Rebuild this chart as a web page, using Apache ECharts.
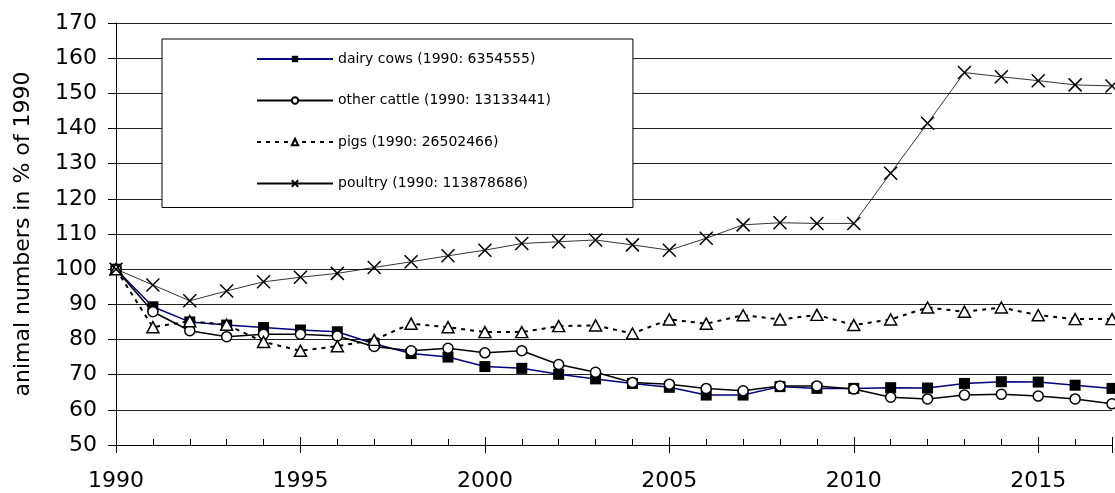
<!DOCTYPE html>
<html>
<head>
<meta charset="utf-8">
<script src="https://cdn.jsdelivr.net/npm/echarts@6/dist/echarts.min.js"></script>
<style>
html,body{margin:0;padding:0;background:#fff;}
#chart{width:1115px;height:493px;}
</style>
</head>
<body>
<div id="chart"></div>
<script>
const years = [1990,1991,1992,1993,1994,1995,1996,1997,1998,1999,2000,2001,2002,2003,2004,2005,2006,2007,2008,2009,2010,2011,2012,2013,2014,2015,2016,2017];
const dairyCows   = [100,89.3,85.0,84.1,83.4,82.7,82.2,78.8,76.0,75.0,72.3,71.8,70.1,68.8,67.5,66.4,64.2,64.2,66.6,66.1,66.1,66.3,66.2,67.5,68.0,67.9,67.0,66.1];
const otherCattle = [100,87.9,82.5,80.8,81.5,81.5,81.0,78.0,76.8,77.5,76.2,76.8,72.9,70.7,67.8,67.3,66.1,65.4,66.8,66.8,65.9,63.6,63.1,64.2,64.4,63.9,63.1,61.7];
const pigs        = [100,83.5,85.2,84.2,79.3,76.8,78.1,79.9,84.5,83.5,82.1,82.1,83.8,84.0,81.7,85.7,84.5,86.9,85.7,87.0,84.1,85.7,89.1,87.9,89.1,86.9,85.8,85.8];
const poultry     = [100,95.5,91.0,93.8,96.4,97.7,98.8,100.5,102.1,103.8,105.4,107.3,107.8,108.3,106.9,105.4,108.8,112.6,113.2,113.0,113.0,127.3,141.5,155.9,154.7,153.6,152.4,152.1];
const seriesNames = ['dairy cows (1990: 6354555)','other cattle (1990: 13133441)','pigs (1990: 26502466)','poultry (1990: 113878686)'];
const yAxisName = 'animal numbers in % of 1990';

const pairs = arr => years.map((y,i)=>[y,arr[i]]);
const FONT = 'DejaVu Sans';

const chart = echarts.init(document.getElementById('chart'), null, {renderer:'canvas'});
const baseX = {type:'value', min:1990, max:2017, gridIndex:0, splitLine:{show:false}};
chart.setOption({
  backgroundColor:'#fff',
  animation:false,
  textStyle:{fontFamily:FONT},
  grid:{left:116, top:23, width:1002, height:422},
  legend:{
    orient:'vertical', left:162, top:39,
    backgroundColor:'#fff', borderColor:'#000', borderWidth:1,
    padding:[12,82,16,94],
    itemWidth:76, itemHeight:8, itemGap:25.5,
    textStyle:{fontFamily:FONT, fontSize:14, color:'#000', lineHeight:16},
    data:seriesNames
  },
  xAxis:[
    Object.assign({}, baseX, {
      interval:5, position:'bottom',
      axisLine:{show:true, lineStyle:{color:'#000', width:1}},
      axisTick:{show:true, inside:false, length:8, lineStyle:{color:'#000'}},
      axisLabel:{fontFamily:FONT, fontSize:22, color:'#000', margin:25,
        formatter:v => (v % 5 === 0 ? String(v) : '')}
    }),
    Object.assign({}, baseX, {
      interval:1, position:'bottom',
      axisLine:{show:false},
      axisTick:{show:true, inside:true, length:6, lineStyle:{color:'#000'}},
      axisLabel:{show:false}
    }),
    Object.assign({}, baseX, {
      interval:5, position:'bottom',
      axisLine:{show:false},
      axisTick:{show:true, inside:true, length:8, lineStyle:{color:'#000'}},
      axisLabel:{show:false}
    })
  ],
  yAxis:{
    type:'value', min:50, max:170, interval:10,
    name:yAxisName, nameLocation:'middle', nameGap:82, nameRotate:90,
    nameTextStyle:{fontFamily:FONT, fontSize:22, color:'#000'},
    axisLine:{show:true, lineStyle:{color:'#000', width:1}},
    axisTick:{show:true, inside:false, length:8, lineStyle:{color:'#000'}},
    axisLabel:{fontFamily:FONT, fontSize:22, color:'#000', margin:19},
    splitLine:{show:true, lineStyle:{color:'#222', width:1}}
  },
  series:[
    {
      name:seriesNames[0], type:'line', data:pairs(dairyCows), showAllSymbol:true,
      symbol:'rect', symbolSize:11,
      lineStyle:{color:'#000080', width:1.5},
      itemStyle:{color:'#000', borderColor:'#000', borderWidth:0},
      z:3
    },
    {
      name:seriesNames[1], type:'line', data:pairs(otherCattle), showAllSymbol:true,
      symbol:'circle', symbolSize:10,
      lineStyle:{color:'#000', width:1.5},
      itemStyle:{color:'#fff', borderColor:'#000', borderWidth:1.5},
      z:4
    },
    {
      name:seriesNames[2], type:'line', data:pairs(pigs), showAllSymbol:true,
      symbol:'triangle', symbolSize:[12,11],
      lineStyle:{color:'#000', width:2, type:[4,5]},
      itemStyle:{color:'#fff', borderColor:'#000', borderWidth:1.5},
      z:5
    },
    {
      name:seriesNames[3], type:'line', data:pairs(poultry), showAllSymbol:true,
      symbol:'path://M0,0L10,10M10,0L0,10', symbolSize:13,
      lineStyle:{color:'#000', width:0.8},
      itemStyle:{color:'rgba(0,0,0,0)', borderColor:'#000', borderWidth:1.5},
      z:6
    }
  ]
});
</script>
</body>
</html>
